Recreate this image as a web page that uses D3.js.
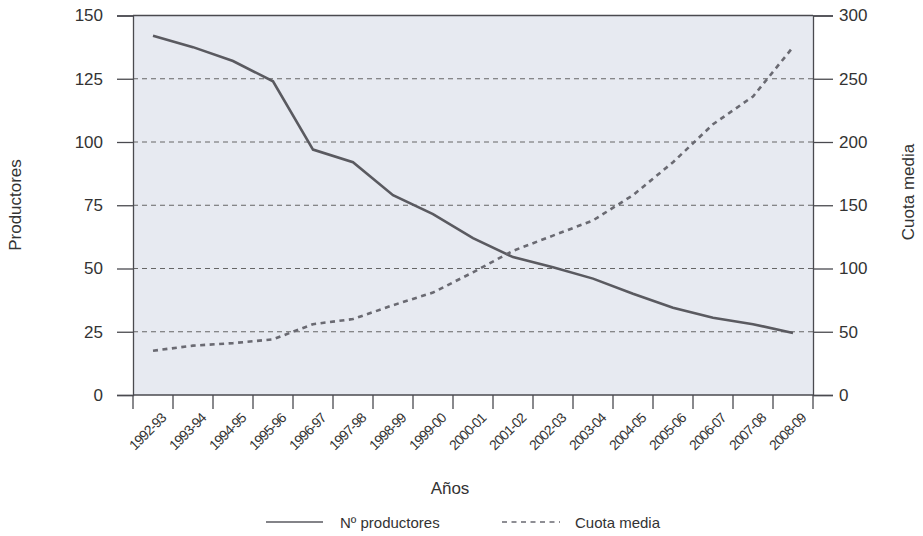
<!DOCTYPE html>
<html><head><meta charset="utf-8">
<script src="https://cdn.jsdelivr.net/npm/d3@7"></script>
<style>body{margin:0;background:#fff}svg{display:block}text{font-family:"Liberation Sans",Arial,sans-serif;fill:#333}</style>
</head><body><svg id="c" width="923" height="536"></svg>
<script>
const categories = ["1992-93","1993-94","1994-95","1995-96","1996-97","1997-98","1998-99","1999-00","2000-01","2001-02","2002-03","2003-04","2004-05","2005-06","2006-07","2007-08","2008-09"];
const productores = [142,137.5,132,124,97,92,79,71.5,62,54.5,50.5,46,40,34.5,30.5,28,24.5];
const cuotaMedia = [35,39,41,44,56,60,71,81,97,114,126,138,158,184,214,236,275];
const leftTicks = [0,25,50,75,100,125,150];
const rightTicks = [0,50,100,150,200,250,300];
const gridTicks = [25,50,75,100,125];

const svg = d3.select("#c");
const L=133, R=813, T=15.5, B=395;
const x = d3.scaleBand().domain(categories).range([L,R]);
const yL = d3.scaleLinear().domain([0,150]).range([B,T]);
const yR = d3.scaleLinear().domain([0,300]).range([B,T]);
const ink="#4a4a4f";

svg.append("rect").attr("x",L).attr("y",T).attr("width",R-L).attr("height",B-T).attr("fill","#e7eaf1");

// grid
svg.append("g").selectAll("line").data(gridTicks).join("line")
  .attr("x1",L).attr("x2",R).attr("y1",d=>yL(d)).attr("y2",d=>yL(d))
  .attr("stroke","#666").attr("stroke-width",1).attr("stroke-dasharray","5,4");

// left axis
const gl = svg.append("g").attr("transform",`translate(${L},0)`)
  .call(d3.axisLeft(yL).tickValues(leftTicks).tickSize(16).tickPadding(14));
// right axis
const gr = svg.append("g").attr("transform",`translate(${R},0)`)
  .call(d3.axisRight(yR).tickValues(rightTicks).tickSize(20).tickPadding(6));
[gl,gr].forEach(g=>{
  g.select(".domain").attr("stroke",ink).attr("stroke-width",1.3);
  g.selectAll(".tick line").attr("stroke",ink).attr("stroke-width",1.3);
  g.selectAll(".tick text").attr("font-size",17).attr("fill","#333").attr("font-family","Liberation Sans, Arial, sans-serif");
});
// top border
svg.append("line").attr("x1",L).attr("x2",R).attr("y1",T).attr("y2",T).attr("stroke",ink).attr("stroke-width",1.3);

// bottom axis
const gb = svg.append("g").attr("transform",`translate(0,${B})`);
gb.append("line").attr("x1",L).attr("x2",R).attr("stroke",ink).attr("stroke-width",1.3);
const bounds = categories.map(c=>x(c)).concat([R]);
gb.selectAll("line.tk").data(bounds).join("line").attr("class","tk")
  .attr("x1",d=>d).attr("x2",d=>d).attr("y1",0).attr("y2",14).attr("stroke",ink).attr("stroke-width",1.3);
gb.selectAll("text").data(categories).join("text")
  .attr("transform",d=>`translate(${x(d)+x.bandwidth()/2+14},${24}) rotate(-45)`)
  .attr("text-anchor","end").attr("font-size",14).attr("letter-spacing","-0.9")
  .text(d=>d);

const cx = d=>x(d)+x.bandwidth()/2;
svg.append("path").datum(productores)
  .attr("d",d3.line().x((d,i)=>cx(categories[i])).y(d=>yL(d)))
  .attr("fill","none").attr("stroke","#5a5a60").attr("stroke-width",2.6);
svg.append("path").datum(cuotaMedia)
  .attr("d",d3.line().x((d,i)=>cx(categories[i])).y(d=>yR(d)))
  .attr("fill","none").attr("stroke","#6a6a72").attr("stroke-width",2.6).attr("stroke-dasharray","5,4.5");

// titles
svg.append("text").attr("transform","translate(21,205) rotate(-90)").attr("text-anchor","middle").attr("font-size",17).text("Productores");
svg.append("text").attr("transform","translate(914,192) rotate(-90)").attr("text-anchor","middle").attr("font-size",17).text("Cuota media");
svg.append("text").attr("x",450).attr("y",494).attr("text-anchor","middle").attr("font-size",17).text("Años");

// legend
const lg = svg.append("g");
lg.append("line").attr("x1",266).attr("x2",323).attr("y1",522).attr("y2",522).attr("stroke","#5a5a60").attr("stroke-width",1.6);
lg.append("text").attr("x",340).attr("y",527.5).attr("font-size",15).text("Nº productores");
lg.append("line").attr("x1",502).attr("x2",560).attr("y1",522).attr("y2",522).attr("stroke","#6a6a72").attr("stroke-width",1.6).attr("stroke-dasharray","5,4.5");
lg.append("text").attr("x",575).attr("y",527.5).attr("font-size",15).text("Cuota media");
</script></body></html>
